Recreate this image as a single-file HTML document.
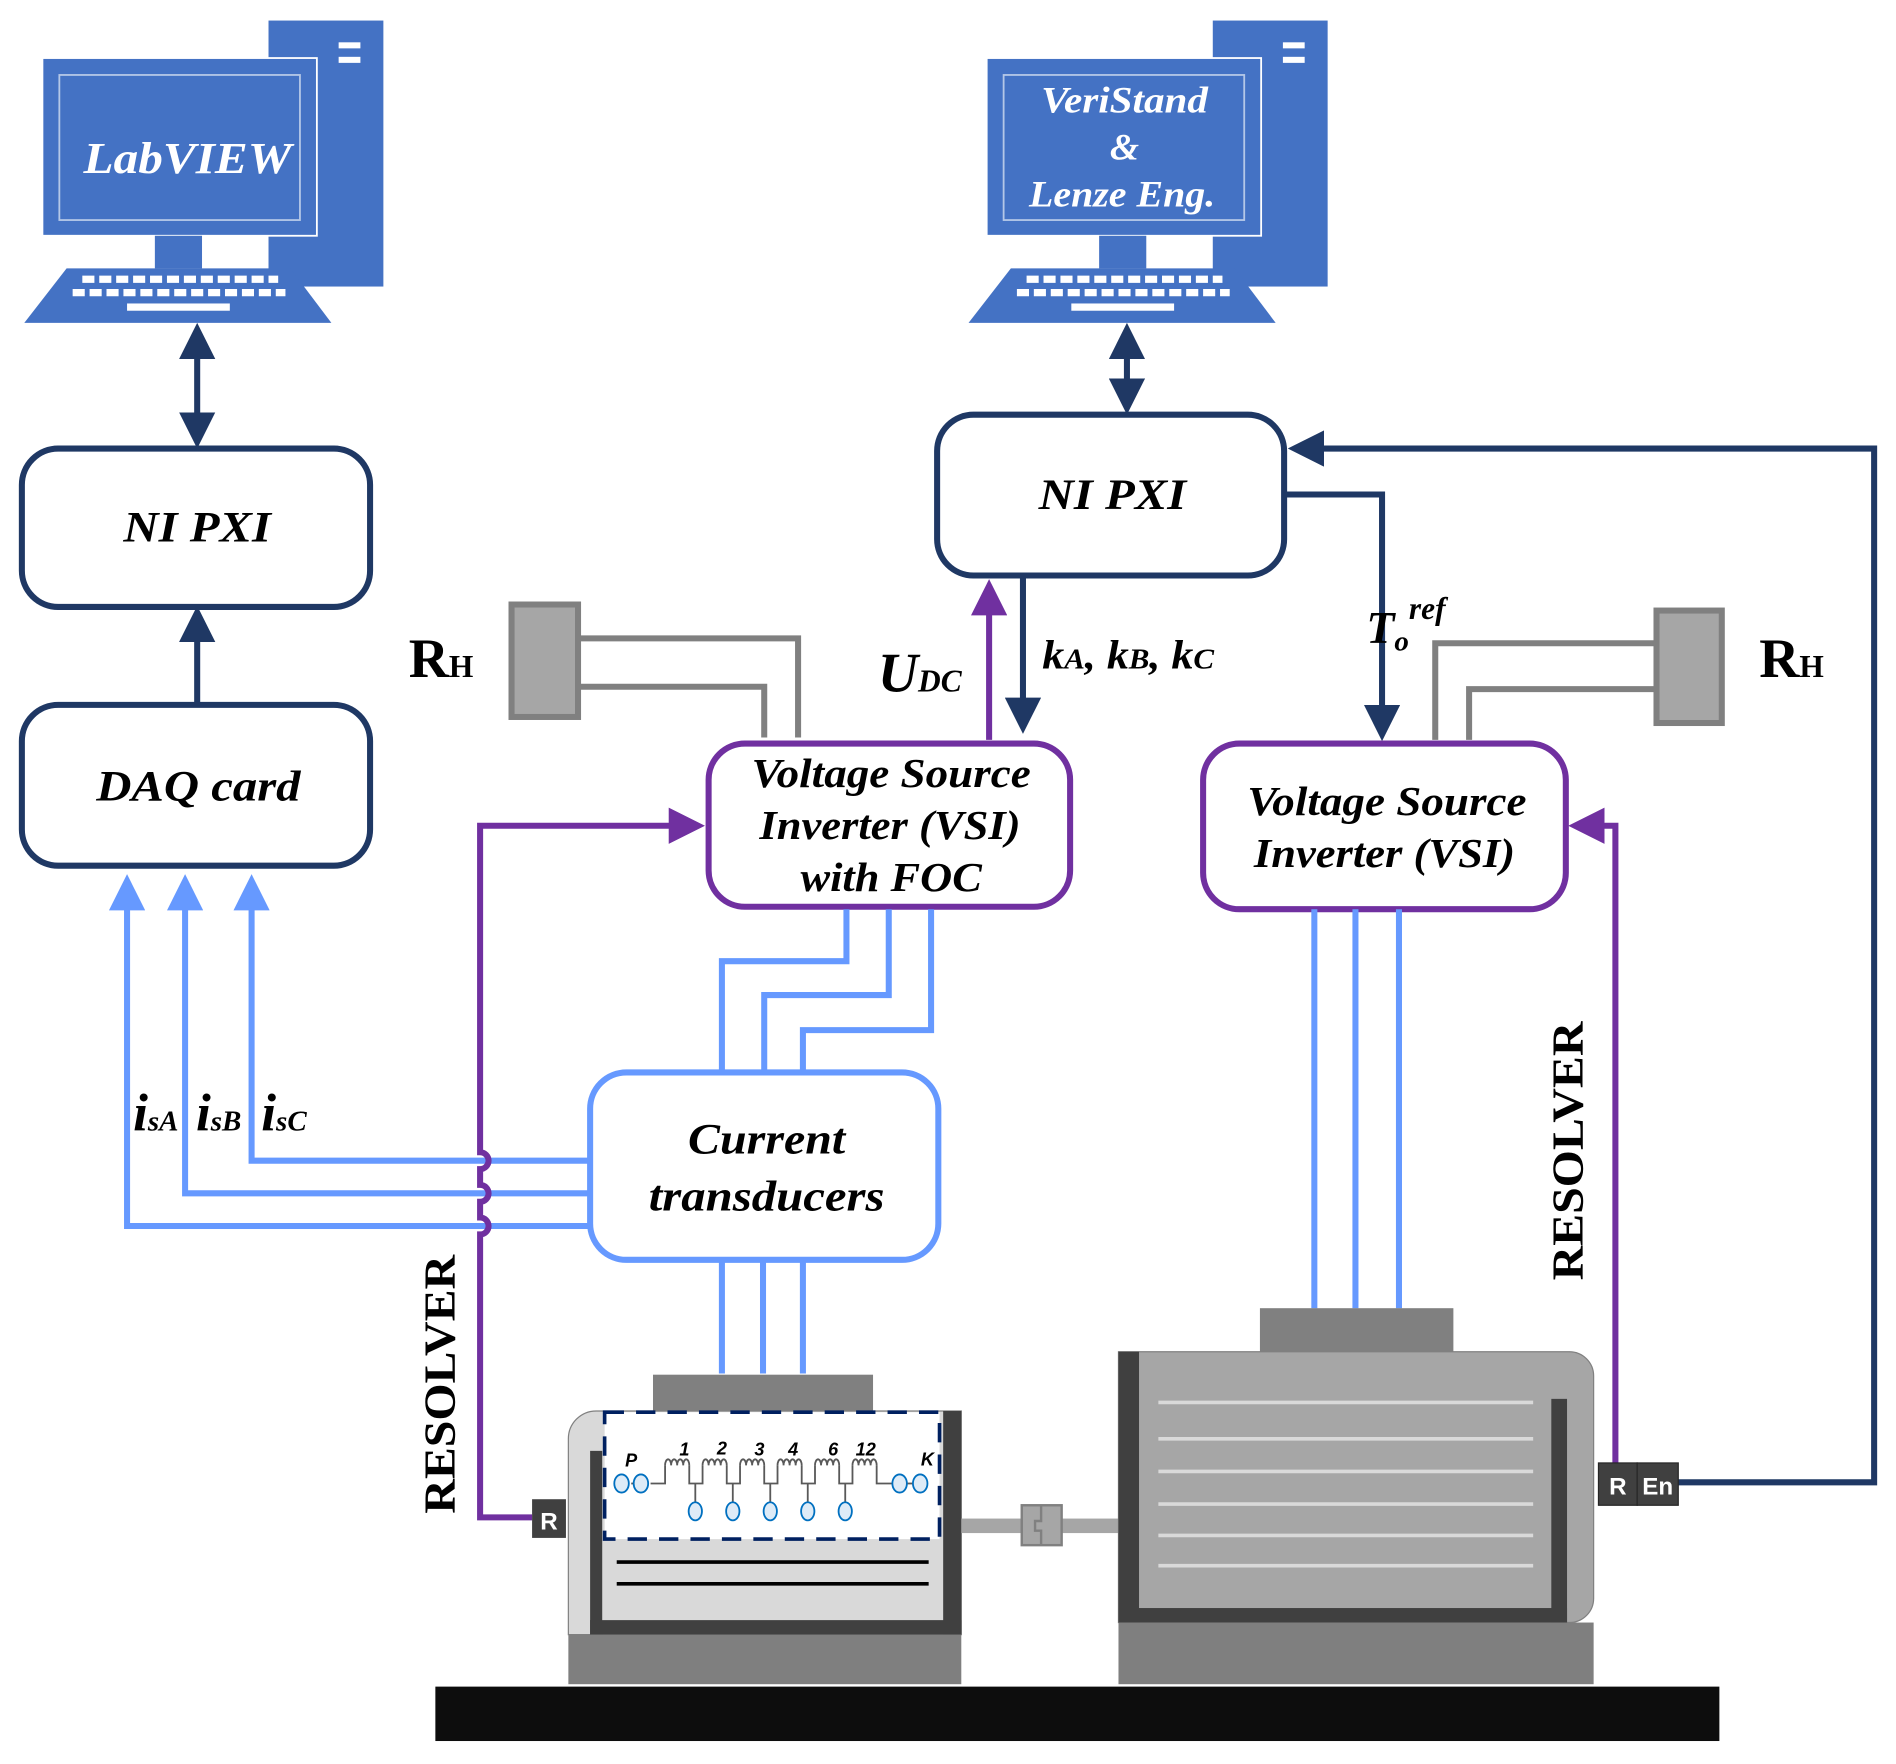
<!DOCTYPE html>
<html><head><meta charset="utf-8"><style>body{margin:0;background:#fff}svg{display:block}</style></head><body>
<svg width="1896" height="1764" viewBox="0 0 1568 1459" xmlns="http://www.w3.org/2000/svg" font-family="Liberation Serif, serif">
<defs>
<marker id="an" markerWidth="6" markerHeight="6" refX="3" refY="3" orient="auto-start-reverse" markerUnits="strokeWidth"><path d="M0,0 L6,3 L0,6 z" fill="#1f3864"/></marker>
<marker id="ap" markerWidth="6" markerHeight="6" refX="3" refY="3" orient="auto" markerUnits="strokeWidth"><path d="M0,0 L6,3 L0,6 z" fill="#7030a0"/></marker>
<marker id="ab" markerWidth="6" markerHeight="6" refX="3" refY="3" orient="auto" markerUnits="strokeWidth"><path d="M0,0 L6,3 L0,6 z" fill="#6699ff"/></marker>
<g id="pc">
<rect x="222" y="17" width="95" height="220" fill="#4472c4"/>
<rect x="280" y="35" width="18" height="5" fill="#fff"/><rect x="280" y="47" width="18" height="5" fill="#fff"/>
<rect x="35" y="48" width="227" height="147" fill="#4472c4" stroke="#fff" stroke-width="1.5"/>
<rect x="49" y="62" width="199" height="120" fill="none" stroke="#b4c7e7" stroke-width="1.5"/>
<rect x="128" y="195" width="39" height="27" fill="#4472c4"/>
<path d="M55,222 L240,222 L274,267 L20,267 z" fill="#4472c4"/>
</g>
<g id="keys" fill="#fff">
<path d="M68,228 h10 v6 h-10z M82,228 h10 v6 h-10z M96,228 h10 v6 h-10z M110,228 h10 v6 h-10z M124,228 h10 v6 h-10z M138,228 h10 v6 h-10z M152,228 h10 v6 h-10z M166,228 h10 v6 h-10z M180,228 h10 v6 h-10z M194,228 h10 v6 h-10z M208,228 h10 v6 h-10z M222,228 h8 v6 h-8z"/>
<path d="M60,239 h10 v6 h-10z M74,239 h10 v6 h-10z M88,239 h10 v6 h-10z M102,239 h10 v6 h-10z M116,239 h10 v6 h-10z M130,239 h10 v6 h-10z M144,239 h10 v6 h-10z M158,239 h10 v6 h-10z M172,239 h10 v6 h-10z M186,239 h10 v6 h-10z M200,239 h10 v6 h-10z M214,239 h10 v6 h-10z M228,239 h8 v6 h-8z"/>
<rect x="105" y="251" width="85" height="6"/>
</g>
</defs>
<use href="#pc"/><use href="#keys"/>
<text x="155" y="143" font-size="37" font-weight="bold" font-style="italic" fill="#fff" text-anchor="middle" textLength="172" lengthAdjust="spacingAndGlyphs">LabVIEW</text>
<use href="#pc" transform="translate(781,0)"/><use href="#keys" transform="translate(781,0)"/>
<g font-size="31" font-weight="bold" font-style="italic" fill="#fff" text-anchor="middle">
<text x="930" y="93" textLength="138" lengthAdjust="spacingAndGlyphs">VeriStand</text><text x="930" y="132">&amp;</text><text x="928" y="171" textLength="154" lengthAdjust="spacingAndGlyphs">Lenze Eng.</text>
</g>
<g stroke="#1f3864" stroke-width="5" fill="none">
<line x1="163" y1="282" x2="163" y2="356" marker-start="url(#an)" marker-end="url(#an)"/>
<line x1="932" y1="282" x2="932" y2="328" marker-start="url(#an)" marker-end="url(#an)"/>
<line x1="163" y1="583" x2="163" y2="516" marker-end="url(#an)"/>
<polyline points="1388,1226 1550,1226 1550,371 1080,371" marker-end="url(#an)"/>
<line x1="846" y1="476" x2="846" y2="592" marker-end="url(#an)"/>
<polyline points="1062,409 1143,409 1143,598" marker-end="url(#an)"/>
</g>
<g fill="#fff" stroke-width="5">
<rect x="18" y="371" width="288" height="131" rx="30" stroke="#1f3864"/>
<rect x="18" y="583" width="288" height="133" rx="30" stroke="#1f3864"/>
<rect x="775" y="343" width="287" height="133" rx="30" stroke="#1f3864"/>
<rect x="586" y="615" width="299" height="135" rx="30" stroke="#7030a0"/>
<rect x="995" y="615" width="300" height="137" rx="30" stroke="#7030a0"/>
</g>
<g font-size="36" font-weight="bold" font-style="italic" fill="#000" text-anchor="middle" lengthAdjust="spacingAndGlyphs">
<text x="163" y="448" textLength="122" lengthAdjust="spacingAndGlyphs">NI PXI</text>
<text x="164" y="662" textLength="169" lengthAdjust="spacingAndGlyphs">DAQ card</text>
<text x="920" y="421" textLength="122" lengthAdjust="spacingAndGlyphs">NI PXI</text>
</g>
<g font-size="34" font-weight="bold" font-style="italic" fill="#000" text-anchor="middle">
<text x="737" y="651" textLength="231" lengthAdjust="spacingAndGlyphs">Voltage Source</text><text x="736" y="694" textLength="216" lengthAdjust="spacingAndGlyphs">Inverter (VSI)</text><text x="737" y="737" textLength="150" lengthAdjust="spacingAndGlyphs">with FOC</text>
<text x="1147" y="674" textLength="231" lengthAdjust="spacingAndGlyphs">Voltage Source</text><text x="1145" y="717" textLength="216" lengthAdjust="spacingAndGlyphs">Inverter (VSI)</text>
</g>
<line x1="818" y1="612" x2="818" y2="494" stroke="#7030a0" stroke-width="5" marker-end="url(#ap)"/>
<g stroke="#808080" stroke-width="5" fill="none">
<polyline points="478,528 660,528 660,610"/><polyline points="478,568 632,568 632,610"/>
<polyline points="1370,532 1187,532 1187,612"/><polyline points="1370,570 1215,570 1215,612"/>
</g>
<rect x="423" y="500" width="55" height="93" fill="#a6a6a6" stroke="#808080" stroke-width="5"/>
<rect x="1370" y="505" width="54" height="93" fill="#a6a6a6" stroke="#808080" stroke-width="5"/>
<g font-weight="bold" fill="#000">
<text x="338" y="560" font-size="46">R<tspan font-size="26">H</tspan></text>
<text x="1455" y="560" font-size="46">R<tspan font-size="26">H</tspan></text>
<text x="726" y="572" font-size="46" font-style="italic">U<tspan font-size="26">DC</tspan></text>
<text x="862" y="553" font-size="34" font-style="italic" textLength="142" lengthAdjust="spacingAndGlyphs">k<tspan font-size="24">A</tspan>, k<tspan font-size="24">B</tspan>, k<tspan font-size="24">C</tspan></text>
<text x="1130" y="532" font-size="38" font-style="italic">T<tspan font-size="24" dy="6">o</tspan><tspan font-size="26" dy="-26">ref</tspan></text>
<text x="110" y="935" font-size="44" font-style="italic">i<tspan font-size="24">sA</tspan></text>
<text x="162" y="935" font-size="44" font-style="italic">i<tspan font-size="24">sB</tspan></text>
<text x="216" y="935" font-size="44" font-style="italic">i<tspan font-size="24">sC</tspan></text>
</g>
<g stroke="#6699ff" stroke-width="5" fill="none">
<polyline points="700,752 700,795 597,795 597,887"/>
<polyline points="735,752 735,823 632,823 632,887"/>
<polyline points="770,752 770,852 664,852 664,887"/>
<polyline points="488,960 208,960 208,738" marker-end="url(#ab)"/>
<polyline points="488,987 153,987 153,738" marker-end="url(#ab)"/>
<polyline points="488,1014 105,1014 105,738" marker-end="url(#ab)"/>
<line x1="597" y1="1042" x2="597" y2="1136"/><line x1="631" y1="1042" x2="631" y2="1136"/><line x1="664" y1="1042" x2="664" y2="1136"/>
<line x1="1087" y1="752" x2="1087" y2="1082"/><line x1="1121" y1="752" x2="1121" y2="1082"/><line x1="1157" y1="752" x2="1157" y2="1082"/>
</g>
<rect x="488" y="887" width="288" height="155" rx="30" fill="#fff" stroke="#6699ff" stroke-width="5"/>
<g font-size="36" font-weight="bold" font-style="italic" fill="#000" text-anchor="middle">
<text x="634" y="954" textLength="130" lengthAdjust="spacingAndGlyphs">Current</text><text x="634" y="1001" textLength="195" lengthAdjust="spacingAndGlyphs">transducers</text>
</g>
<g stroke="#7030a0" stroke-width="5" fill="none">
<path d="M440,1255 H397 V1021 a7,7 0 0 0 0,-14 V994 a7,7 0 0 0 0,-14 V967 a7,7 0 0 0 0,-14 V683 H568" marker-end="url(#ap)"/>
<polyline points="1336,1213 1336,683 1312,683" marker-end="url(#ap)"/>
</g>
<rect x="360" y="1395" width="1062" height="45" fill="#0d0d0d"/>
<rect x="540" y="1137" width="182" height="30" fill="#808080"/>
<path d="M470,1352 V1190 a23,23 0 0 1 23,-23 H795 V1352 z" fill="#d9d9d9" stroke="#808080" stroke-width="1"/>
<rect x="488" y="1200" width="10" height="152" fill="#404040"/>
<rect x="780" y="1167" width="15" height="185" fill="#404040"/>
<rect x="488" y="1340" width="307" height="12" fill="#404040"/>
<rect x="500" y="1168" width="277" height="105" fill="#fff" stroke="#002060" stroke-width="3" stroke-dasharray="16,10"/>
<line x1="510" y1="1292" x2="768" y2="1292" stroke="#000" stroke-width="3"/>
<line x1="510" y1="1310" x2="768" y2="1310" stroke="#000" stroke-width="3"/>
<rect x="470" y="1352" width="325" height="41" fill="#7f7f7f"/>
<rect x="440" y="1240" width="28" height="32" fill="#404040"/>
<text x="454" y="1265" font-family="Liberation Sans, sans-serif" font-size="20" font-weight="bold" fill="#fff" text-anchor="middle">R</text>
<g stroke="#595959" stroke-width="1.5" fill="none">
<path d="M538,1227 H550 V1212 M570,1212 V1227 H575 V1245 M575,1227 H581 V1212 M601,1212 V1227 H606 V1245 M606,1227 H612 V1212 M632,1212 V1227 H637 V1245 M637,1227 H643 V1212 M663,1212 V1227 H668 V1245 M668,1227 H674 V1212 M694,1212 V1227 H699 V1245 M699,1227 H705 V1212 M725,1212 V1227 H738"/>
<path id="coil" d="M550,1212 a2.5,5 0 1 1 5,0 a2.5,5 0 1 1 5,0 a2.5,5 0 1 1 5,0 a2.5,5 0 1 1 5,0"/>
<use href="#coil" x="31"/><use href="#coil" x="62"/><use href="#coil" x="93"/><use href="#coil" x="124"/><use href="#coil" x="155"/>
<line x1="522" y1="1227" x2="530" y2="1227"/><line x1="748" y1="1227" x2="757" y2="1227"/>
</g>
<g fill="#deebf7" stroke="#0070c0" stroke-width="1.5">
<ellipse cx="514" cy="1227" rx="6" ry="7.5"/><ellipse cx="530" cy="1227" rx="6" ry="7.5"/>
<ellipse cx="744" cy="1227" rx="6" ry="7.5"/><ellipse cx="761" cy="1227" rx="6" ry="7.5"/>
<ellipse cx="575" cy="1250" rx="5.5" ry="7.5"/><ellipse cx="606" cy="1250" rx="5.5" ry="7.5"/><ellipse cx="637" cy="1250" rx="5.5" ry="7.5"/><ellipse cx="668" cy="1250" rx="5.5" ry="7.5"/><ellipse cx="699" cy="1250" rx="5.5" ry="7.5"/>
</g>
<g font-family="Liberation Sans, sans-serif" font-size="15" font-weight="bold" font-style="italic" fill="#000" text-anchor="middle">
<text x="522" y="1213">P</text><text x="566" y="1204">1</text><text x="597" y="1203">2</text><text x="628" y="1204">3</text><text x="656" y="1204">4</text><text x="689" y="1204">6</text><text x="716" y="1204">12</text><text x="767" y="1212">K</text>
</g>
<rect x="795" y="1256" width="130" height="12" fill="#a6a6a6"/>
<rect x="845" y="1245" width="33" height="33" fill="#a6a6a6" stroke="#808080" stroke-width="2"/>
<path d="M861,1245 V1258 H856 V1266 H861 V1278" stroke="#808080" stroke-width="2" fill="none"/>
<rect x="1042" y="1082" width="160" height="36" fill="#808080"/>
<path d="M925,1342 V1118 H1298 a20,20 0 0 1 20,20 V1322 a20,20 0 0 1 -20,20 z" fill="#a6a6a6" stroke="#808080" stroke-width="1"/>
<rect x="925" y="1118" width="17" height="224" fill="#404040"/>
<rect x="1283" y="1157" width="13" height="185" fill="#404040"/>
<rect x="925" y="1330" width="371" height="12" fill="#404040"/>
<g stroke="#d9d9d9" stroke-width="3">
<line x1="958" y1="1160" x2="1268" y2="1160"/><line x1="958" y1="1190" x2="1268" y2="1190"/><line x1="958" y1="1217" x2="1268" y2="1217"/><line x1="958" y1="1244" x2="1268" y2="1244"/><line x1="958" y1="1270" x2="1268" y2="1270"/><line x1="958" y1="1295" x2="1268" y2="1295"/>
</g>
<rect x="925" y="1342" width="393" height="51" fill="#7f7f7f"/>
<rect x="1322" y="1210" width="32" height="35" fill="#404040" stroke="#262626" stroke-width="1"/>
<rect x="1354" y="1210" width="34" height="35" fill="#404040" stroke="#262626" stroke-width="1"/>
<g font-family="Liberation Sans, sans-serif" font-size="20" font-weight="bold" fill="#fff" text-anchor="middle">
<text x="1338" y="1236">R</text><text x="1371" y="1236">En</text>
</g>
<g font-size="37" font-weight="bold" fill="#000" text-anchor="middle">
<text transform="translate(376,1145) rotate(-90)" textLength="214" lengthAdjust="spacingAndGlyphs">RESOLVER</text>
<text transform="translate(1309,952) rotate(-90)" textLength="214" lengthAdjust="spacingAndGlyphs">RESOLVER</text>
</g>
</svg>
</body></html>
